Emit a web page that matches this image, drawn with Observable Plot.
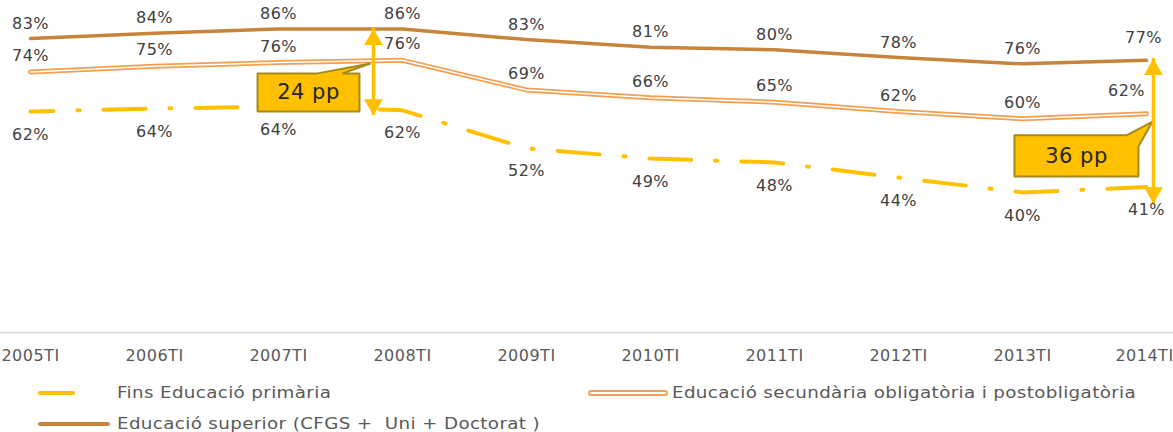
<!DOCTYPE html>
<html><head><meta charset="utf-8">
<script src="https://cdn.jsdelivr.net/npm/d3@7"></script>
<script src="https://cdn.jsdelivr.net/npm/@observablehq/plot@0.6"></script>
<style>
body{margin:0;background:#fff;}
#wrap{position:relative;width:1173px;height:432px;overflow:hidden;font-family:"DejaVu Sans",sans-serif;background:#fff;}
#chart{position:absolute;left:0;top:0;}
.leg{position:absolute;font-size:15.5px;color:#595959;white-space:pre;line-height:18px;letter-spacing:0.3px;transform:scaleX(1.18);transform-origin:0 50%;}
.sw{position:absolute;}
</style></head><body>
<div id="wrap"><div id="chart"></div>
<div id="legend"></div>
</div>
<script>
// ---- data ----
const years = [2005,2006,2007,2008,2009,2010,2011,2012,2013,2014];
const tickLabels = ["2005TI","2006TI","2007TI","2008TI","2009TI","2010TI","2011TI","2012TI","2013TI","2014TI"];
const primaria   = [62.8,63.6,64.2,63.1,52.3,49.4,48.3,44.0,39.8,41.3];
const secundaria = [74.0,75.6,76.7,77.3,68.9,66.7,65.4,62.8,60.7,62.1];
const superior   = [83.5,85.0,86.2,86.2,83.2,81.0,80.3,78.1,76.3,77.3];
const labelsPrimaria   = ["62%","64%","64%","62%","52%","49%","48%","44%","40%","41%"];
const labelsSecundaria = ["74%","75%","76%","76%","69%","66%","65%","62%","60%","62%"];
const labelsSuperior   = ["83%","84%","86%","86%","83%","81%","80%","78%","76%","77%"];
const seriesNames = ["Fins Educació primària","Educació secundària obligatòria i postobligatòria","Educació superior (CFGS +  Uni + Doctorat )"];
const colors = {primaria:"#FFC000", secundaria:"#F59E50", superior:"#C8843A"};

// gap annotations (data space)
const gapLabels = ["24 pp","36 pp"];
const gapX = [2007.766, 2014.056];
const gapTop = [86.3, 77.8];
const gapBottom = [61.6, 36.6];
const gapTextX = [2007.242, 2013.435];
const gapTextY = [68.2, 50.0];
const calloutLeftX = [2006.831,2007.315,2007.742,2007.516,2007.653,2007.653,2006.831,2006.831];
const calloutLeftY = [73.6,73.6,76.4,73.6,73.6,62.8,62.8,73.6];
const calloutRightX = [2012.935,2013.839,2014.048,2013.935,2013.935,2012.935,2012.935];
const calloutRightY = [56.0,56.0,59.9,52.8,44.3,44.3,56.0];
const axisExtent = [2004.758, 2014.218];

// ---- tables ----
const rows = years.map((y,i)=>({year:y, primaria:primaria[i], secundaria:secundaria[i], superior:superior[i],
  lp:labelsPrimaria[i], ls:labelsSecundaria[i], lsu:labelsSuperior[i], tick:tickLabels[i]}));
const gaps = gapLabels.map((t,i)=>({label:t, x:gapX[i], top:gapTop[i], bottom:gapBottom[i], tx:gapTextX[i], ty:gapTextY[i]}));
const callouts = [
  ...calloutLeftX.map((x,i)=>({id:"L", x, y:calloutLeftY[i]})),
  ...calloutRightX.map((x,i)=>({id:"R", x, y:calloutRightY[i]}))
];
const last = years[years.length-1];

const chart = Plot.plot({
  width:1173, height:372,
  marginTop:0, marginBottom:40, marginLeft:30, marginRight:27,
  x:{domain:[2005,2014], axis:null},
  y:{domain:[0,94.3], axis:null},
  style:{fontFamily:"DejaVu Sans, sans-serif", fontSize:"16px", background:"white", overflow:"visible", letterSpacing:"0.5px"},
  marks:[
    Plot.ruleY([0],{x1:axisExtent[0], x2:axisExtent[1], stroke:"#d9d9d9", strokeWidth:1.5}),
    // x tick labels
    Plot.text(rows.filter(d=>d.year!==last),{x:"year", y:()=>0, text:"tick", dy:23, fontSize:16, fill:"#595959", letterSpacing:"0.9px"}),
    Plot.text(rows.filter(d=>d.year===last),{x:"year", y:()=>0, text:"tick", dy:23, dx:-2, fontSize:16, fill:"#595959", letterSpacing:"0.5px"}),
    Plot.line(rows,{x:"year", y:"superior", stroke:colors.superior, strokeWidth:3.5}),
    Plot.line(rows,{x:"year", y:"secundaria", stroke:colors.secundaria, strokeWidth:5}),
    Plot.line(rows,{x:"year", y:"secundaria", stroke:"white", strokeWidth:1.5}),
    Plot.line(rows,{x:"year", y:"primaria", stroke:colors.primaria, strokeWidth:4,
      strokeDasharray:"42,24,2,24", strokeDashoffset:19, strokeLinecap:"round"}),
    // callouts
    Plot.line(callouts,{x:"x", y:"y", z:"id", fill:"#FFC000", stroke:"#A58A1A", strokeWidth:2, strokeLinejoin:"miter"}),
    Plot.text(gaps,{x:"tx", y:"ty", text:"label", fontSize:21, fill:"#262626", letterSpacing:"1px"}),
    // double arrows
    Plot.ruleX(gaps,{x:"x", y1:d=>d.top, y2:d=>d.bottom, stroke:"#FFC000", strokeWidth:3.5}),
    Plot.dot(gaps,{x:"x", y:"top", symbol:"triangle", r:7, fill:"#FFC000", stroke:"none", dy:11}),
    Plot.dot(gaps,{x:"x", y:"bottom", symbol:"triangle", r:7, rotate:180, fill:"#FFC000", stroke:"none", dy:-11}),
    // data labels
    Plot.text(rows.filter(d=>d.year!==last),{x:"year", y:"superior", text:"lsu", dy:-15, fontSize:16, fill:"#404040"}),
    Plot.text(rows.filter(d=>d.year===last),{x:"year", y:"superior", text:"lsu", dy:-22, dx:-3, fontSize:16, fill:"#404040"}),
    Plot.text(rows.filter(d=>d.year!==last),{x:"year", y:"secundaria", text:"ls", dy:-16, fontSize:16, fill:"#404040"}),
    Plot.text(rows.filter(d=>d.year===last),{x:"year", y:"secundaria", text:"ls", dy:-23, dx:-20, fontSize:16, fill:"#404040"}),
    Plot.text(rows,{x:"year", y:"primaria", text:"lp", dy:23, fontSize:16, fill:"#404040"})
  ]
});
document.getElementById("chart").appendChild(chart);

// ---- legend (HTML, below the SVG) ----
const leg = document.getElementById("legend");
const items = [
  {name:seriesNames[0], sw:`<div class="sw" style="left:38px;top:391px;width:37px;height:4px;background:${colors.primaria};border-radius:2px"></div>`, left:117, top:384},
  {name:seriesNames[1], sw:`<div class="sw" style="left:588px;top:390px;width:76px;height:1.5px;border:2px solid ${colors.secundaria};border-radius:3px;background:#fff"></div>`, left:672, top:384},
  {name:seriesNames[2], sw:`<div class="sw" style="left:38px;top:422px;width:72px;height:4px;background:${colors.superior};border-radius:2px"></div>`, left:117, top:415}
];
leg.innerHTML = items.map(it => it.sw + `<div class="leg" style="left:${it.left}px;top:${it.top}px">${it.name}</div>`).join("");
</script>
</body></html>
